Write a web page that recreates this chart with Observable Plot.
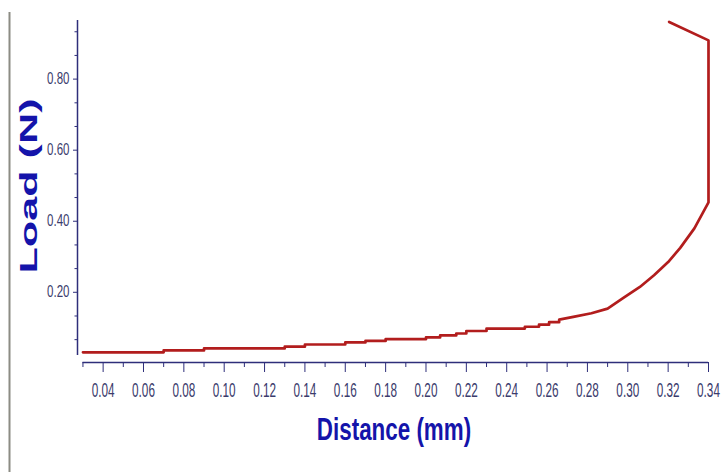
<!DOCTYPE html>
<html><head><meta charset="utf-8">
<script src="https://cdn.jsdelivr.net/npm/d3@7"></script>
<script src="https://cdn.jsdelivr.net/npm/@observablehq/plot@0.6"></script>
<style>
html,body{margin:0;padding:0;background:#fff;}
#chart{width:721px;height:472px;}
</style></head><body><div id="chart"></div>
<script>
// Load–distance curve
const distance = [0.030, 0.070, 0.070, 0.090, 0.090, 0.130, 0.130, 0.140, 0.140, 0.160, 0.160, 0.170, 0.170,
  0.180, 0.180, 0.200, 0.200, 0.207, 0.207, 0.215, 0.215, 0.220, 0.220, 0.230, 0.230, 0.249, 0.249,
  0.256, 0.256, 0.261, 0.261, 0.266, 0.266, 0.273, 0.282, 0.290, 0.298, 0.306, 0.313, 0.320, 0.326,
  0.333, 0.340, 0.340, 0.3205];
const load = [0.031, 0.031, 0.0365, 0.0365, 0.042, 0.042, 0.047, 0.047, 0.053, 0.053, 0.059, 0.059, 0.063,
  0.063, 0.068, 0.068, 0.073, 0.073, 0.0785, 0.0785, 0.084, 0.084, 0.091, 0.091, 0.098, 0.098, 0.103,
  0.103, 0.109, 0.109, 0.116, 0.116, 0.123, 0.131, 0.141, 0.154, 0.185, 0.215, 0.248, 0.285, 0.325,
  0.380, 0.453, 0.909, 0.961];
const xMajorTicks = [0.04, 0.06, 0.08, 0.10, 0.12, 0.14, 0.16, 0.18, 0.20, 0.22, 0.24, 0.26, 0.28, 0.30, 0.32, 0.34];
const xMinorTicks = [0.03, 0.05, 0.07, 0.09, 0.11, 0.13, 0.15, 0.17, 0.19, 0.21, 0.23, 0.25, 0.27, 0.29, 0.31, 0.33];
const yMajorTicks = [0.20, 0.40, 0.60, 0.80];
const yMinorTicks = [0.0667, 0.1333, 0.2667, 0.3333, 0.4667, 0.5333, 0.6667, 0.7333, 0.8667, 0.9333];
const xTitle = "Distance (mm)";
const yTitle = "Load (N)";
const xDomain = [0.0273, 0.34];
const yDomain = [0.0024, 0.965];
const yAxisStart = 0.022;

const rows = distance.map((d, i) => ({distance: d, load: load[i]}));
const axisColor = "#2e2e7a";
const tickTextColor = "#3b3b6c";
const titleColor = "#1414aa";
const lineColor = "#b21d1d";

const chart = Plot.plot({
  width: 721, height: 472,
  marginLeft: 77, marginRight: 13, marginTop: 20, marginBottom: 110,
  style: {fontFamily: "'Liberation Sans Narrow', 'Liberation Sans', sans-serif", background: "white"},
  x: {domain: xDomain, label: null},
  y: {domain: yDomain, label: null},
  marks: [
    Plot.ruleY([yDomain[0]], {x1: xMinorTicks[0], x2: xMajorTicks[xMajorTicks.length - 1], stroke: axisColor, strokeWidth: 1.5}),
    Plot.ruleX([xDomain[0]], {y1: yAxisStart, y2: yDomain[1], stroke: axisColor, strokeWidth: 1.5}),
    Plot.axisX({ticks: xMajorTicks, tickSize: 10, tickPadding: 10, tickFormat: d3.format(".2f"), color: axisColor, fontSize: 21, label: null}),
    Plot.axisX({ticks: xMinorTicks, tickSize: 5, tickFormat: () => "", color: axisColor, label: null}),
    Plot.axisY({ticks: yMajorTicks, tickSize: 4, tickPadding: 4, tickFormat: d3.format(".2f"), color: axisColor, fontSize: 16, label: null}),
    Plot.axisY({ticks: yMinorTicks, tickSize: 2.5, tickFormat: () => "", color: axisColor, label: null}),
    Plot.line(rows, {x: "distance", y: "load", stroke: lineColor, strokeWidth: 2.7, strokeLinejoin: "round"})
  ]
});
document.getElementById("chart").appendChild(chart);

const svg = d3.select(chart);
function squeeze(sel, s) {
  sel.each(function() {
    const t = this.getAttribute("transform");
    if (t) {
      this.setAttribute("transform", t + ` scale(${s},1)`);
    } else {
      const x = this.getAttribute("x") || 0, y = this.getAttribute("y") || 0;
      this.removeAttribute("x"); this.removeAttribute("y");
      this.setAttribute("transform", `translate(${x},${y}) scale(${s},1)`);
    }
    this.setAttribute("fill", tickTextColor);
  });
}
squeeze(svg.selectAll('g[aria-label="x-axis tick label"] text'), 0.56);
squeeze(svg.selectAll('g[aria-label="y-axis tick label"] text'), 0.72);

svg.append("line").attr("x1", 9.5).attr("x2", 9.5).attr("y1", 12).attr("y2", 472)
  .attr("stroke", "#8c8c84").attr("stroke-width", 2);

svg.append("text")
  .attr("transform", "translate(394,440) scale(0.7,1)")
  .attr("text-anchor", "middle")
  .attr("font-family", "'Liberation Sans', Arial, sans-serif")
  .attr("font-weight", "bold").attr("font-size", 32)
  .attr("fill", titleColor).text(xTitle);

svg.append("text")
  .attr("transform", "translate(37,186) rotate(-90) scale(1.8,1)")
  .attr("text-anchor", "middle")
  .attr("font-family", "'Liberation Sans', Arial, sans-serif")
  .attr("font-weight", "bold").attr("font-size", 24)
  .attr("fill", titleColor).text(yTitle);
</script>
</body></html>
